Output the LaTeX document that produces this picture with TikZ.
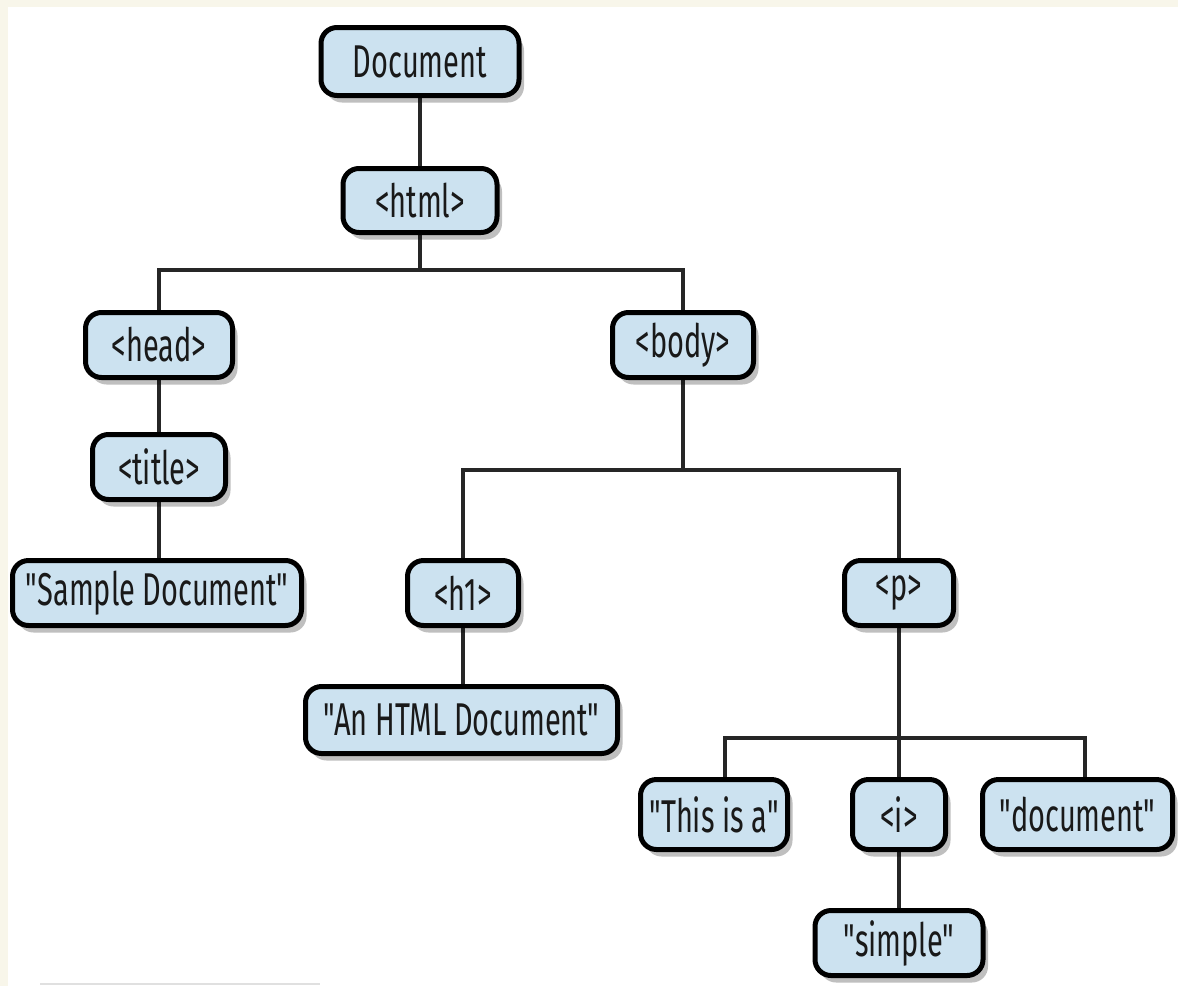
\documentclass[tikz,border=0pt]{standalone}
\usepackage{fontspec}
\setmainfont[FakeStretch=0.63, Ligatures=TeXOff]{Fira Sans}
\usetikzlibrary{shadows,calc}
\definecolor{boxblue}{RGB}{204,226,240}
\definecolor{cream}{RGB}{248,246,234}
\definecolor{ink}{RGB}{25,25,25}
\pgfdeclarelayer{bg}
\pgfsetlayers{bg,main}
\begin{document}
\begin{tikzpicture}[x=1pt,y=-1pt,
  box/.style={draw=black, line width=5pt, rounded corners=16pt, fill=boxblue,
    inner sep=0pt, text=ink, font=\fontsize{46}{50}\selectfont,
    drop shadow={shadow xshift=5pt, shadow yshift=-7pt, opacity=0.25, fill=black}},
  edge/.style={line width=4.5pt, draw=black!85, line join=miter}]
\useasboundingbox (0,0) rectangle (1178,986);

\node[box, minimum width=198pt, minimum height=68pt] (doc) at (420,61.5) {Document};
\node[box, minimum width=154pt, minimum height=64pt] (html) at (420,200.5) {<html>};
\node[box, minimum width=147pt, minimum height=65pt] (head) at (159,345) {<head>};
\node[box, minimum width=141pt, minimum height=65pt] (body) at (683,345) {<body>};
\node[box, minimum width=133pt, minimum height=65pt] (title) at (159,467) {<title>};
\node[box, minimum width=289pt, minimum height=65pt] (sample) at (157,593) {"Sample Document"};
\node[box, minimum width=111pt, minimum height=65pt] (h1) at (463,593) {<h1>};
\node[box, minimum width=109pt, minimum height=65pt] (p) at (899,593) {<p>};
\node[box, minimum width=312pt, minimum height=67pt] (an) at (461.5,720) {"An HTML Document"};
\node[box, minimum width=147pt, minimum height=70pt] (this) at (714,814.5) {"This is a"};
\node[box, minimum width=93pt, minimum height=70pt] (i) at (899,814.5) {<i>};
\node[box, minimum width=190pt, minimum height=70pt] (docu) at (1077.5,814.5) {"document"};
\node[box, minimum width=168pt, minimum height=65pt] (simple) at (899,943) {"simple"};

\coordinate (j1) at (420,270);
\coordinate (j2) at (683,470);
\coordinate (j3) at (899,738);
\coordinate (j3a) at (725,738);
\coordinate (j3b) at (1085,738);

\begin{pgfonlayer}{bg}
  \fill[cream] (0,0) rectangle (1178,986);
  \fill[white] (8,7) rectangle (1178,986);
  \draw[black!12, line width=2pt] (40,984) -- (320,984);
  \draw[edge] (doc.south) -- (html.north);
  \draw[edge] (html.south) -- (j1);
  \draw[edge] (head.north) |- (j1) -| (body.north);
  \draw[edge] (title.north) -- (head.south);
  \draw[edge] (sample.north -| title.south) -- (title.south);
  \draw[edge] (body.south) -- (j2);
  \draw[edge] (h1.north) |- (j2) -| (p.north);
  \draw[edge] (an.north -| h1.south) -- (h1.south);
  \draw[edge] (p.south) -- (i.north);
  \draw[edge] (j3a |- this.north) -- (j3a) -- (j3b) -- (j3b |- docu.north);
  \draw[edge] (i.south) -- (simple.north);
\end{pgfonlayer}
\end{tikzpicture}
\end{document}
